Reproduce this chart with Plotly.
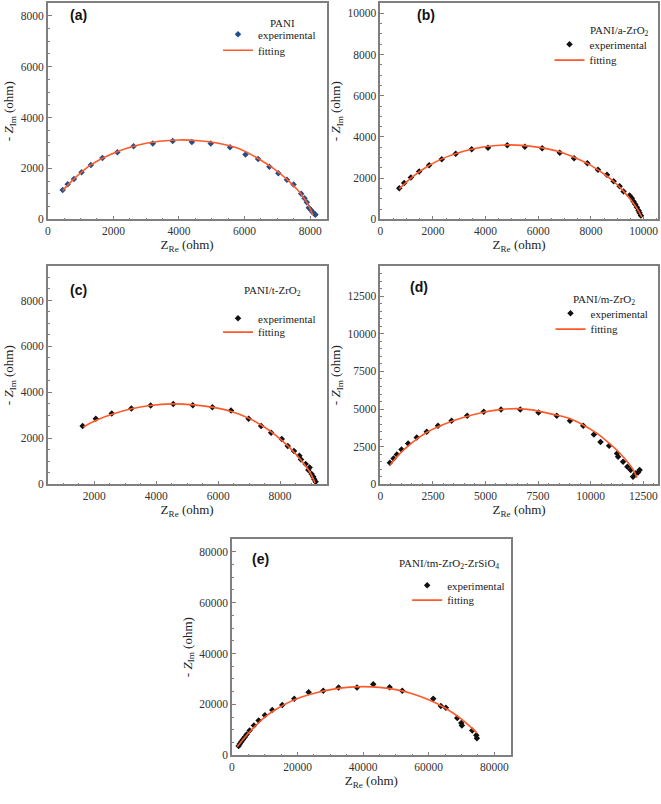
import plotly.graph_objects as go

W, H = 661, 804

# ---------------- data ----------------
a_exp_x = [455, 606, 798, 1030, 1313, 1667, 2121, 2616, 3202, 3808, 4394, 4970, 5556, 6030, 6414,
           6758, 7030, 7293, 7495, 7727, 7828, 7899, 7960, 8020, 8071, 8131, 8162]
a_exp_y = [1157, 1378, 1586, 1846, 2132, 2406, 2640, 2874, 2978, 3082, 3043, 2978, 2835, 2549, 2367,
           2068, 1808, 1560, 1365, 1001, 832, 676, 455, 377, 286, 221, 182]
a_fit_x = [455, 800, 1300, 2000, 2700, 3400, 4000, 4600, 5200, 5800, 6400, 6900, 7300, 7600, 7800, 7950, 8080]
a_fit_y = [1130, 1590, 2130, 2600, 2900, 3070, 3120, 3090, 2990, 2790, 2400, 1980, 1560, 1180, 860, 560, 170]

b_exp_x = [720, 909, 1162, 1477, 1856, 2336, 2866, 3472, 4091, 4823, 5492, 6149, 6818, 7361, 7866,
           8270, 8611, 8864, 9091, 9242, 9470, 9558, 9621, 9684, 9747, 9811, 9848, 9899]
b_exp_y = [1506, 1763, 2035, 2324, 2628, 2917, 3189, 3397, 3478, 3590, 3526, 3446, 3237, 2965, 2724,
           2404, 2163, 1843, 1603, 1346, 1154, 1026, 865, 737, 593, 433, 321, 192]
b_fit_x = [720, 1200, 1800, 2500, 3200, 3900, 4700, 5400, 6100, 6800, 7400, 8000, 8500, 8900, 9200,
           9450, 9650, 9800, 9930]
b_fit_y = [1480, 2040, 2580, 3020, 3320, 3510, 3610, 3590, 3480, 3280, 2990, 2620, 2200, 1800, 1420,
           1060, 720, 420, 120]

c_exp_x = [1624, 2051, 2566, 3199, 3820, 4550, 5183, 5814, 6415, 6984, 7389, 7711, 8055, 8248, 8450,
           8624, 8675, 8826, 8955, 8913, 9019, 9074, 9106, 9148]
c_exp_y = [2534, 2850, 3080, 3297, 3427, 3501, 3444, 3357, 3210, 2850, 2534, 2243, 1970, 1666, 1449,
           1245, 1085, 885, 738, 625, 451, 334, 217, 117]
c_fit_x = [1650, 2100, 2600, 3200, 3800, 4500, 5200, 5800, 6400, 7000, 7400, 7800, 8200, 8500, 8750, 8950, 9130]
c_fit_y = [2500, 2810, 3060, 3290, 3430, 3500, 3460, 3360, 3180, 2870, 2570, 2200, 1740, 1330, 930, 560, 60]

d_exp_x = [457, 631, 788, 1009, 1324, 1734, 2207, 2743, 3389, 4130, 4918, 5738, 6652, 7519, 8386,
           9016, 9647, 10151, 10467, 10876, 11255, 11302, 11538, 11743, 11901, 12011, 12137, 12248, 12327]
d_exp_y = [1436, 1723, 1988, 2319, 2716, 3114, 3489, 3887, 4218, 4549, 4814, 4969, 4969, 4770, 4549,
           4218, 3887, 3313, 2805, 2562, 2054, 1833, 1502, 1170, 950, 508, 729, 795, 950]
d_fit_x = [470, 900, 1500, 2200, 3000, 3900, 4800, 5700, 6500, 7300, 8100, 8900, 9600, 10300, 10900,
           11400, 11800, 12050, 12200]
d_fit_y = [1290, 2000, 2760, 3440, 3970, 4420, 4760, 4960, 5030, 4930, 4680, 4420, 3980, 3380, 2700,
           2050, 1400, 900, 450]

e_exp_x = [2033, 2439, 2846, 3354, 3862, 4472, 5386, 6707, 8130, 10061, 12297, 15346, 19004, 23374,
           27846, 32520, 38110, 43089, 48069, 51931, 61382, 63720, 65244, 68699, 69919, 70122, 73272,
           74492, 74695]
e_exp_y = [3636, 4545, 5325, 6234, 7143, 8182, 9740, 11688, 13636, 15714, 17792, 19740, 22208, 24805,
           25325, 26623, 26623, 27922, 26753, 25325, 22208, 19351, 18701, 14675, 12727, 11688, 9740,
           7922, 6753]
e_fit_x = [1600, 3000, 5000, 7500, 10000, 13000, 17000, 21000, 26000, 31000, 36000, 40000, 45000,
           50000, 55000, 60000, 65000, 70000, 74700]
e_fit_y = [3400, 5600, 8700, 12000, 15000, 17700, 20600, 22800, 24700, 26000, 26800, 27000, 26700,
           25800, 24200, 21800, 18600, 14200, 8800]

sample_names = ["PANI", "PANI/a-ZrO<sub>2</sub>", "PANI/t-ZrO<sub>2</sub>", "PANI/m-ZrO<sub>2</sub>",
                "PANI/tm-ZrO<sub>2</sub>-ZrSiO<sub>4</sub>"]
panel_labels = ["(a)", "(b)", "(c)", "(d)", "(e)"]
exp_label = "experimental"
fit_label = "fitting"

x_ranges = [[0, 8500], [0, 10550], [500, 9500], [0, 13200], [0, 85000]]
y_ranges = [[0, 8500], [0, 10500], [0, 9500], [0, 14500], [0, 85000]]
x_dticks = [2000, 2000, 2000, 2500, 20000]
y_dticks = [2000, 2000, 2000, 2500, 20000]

exp_x = [a_exp_x, b_exp_x, c_exp_x, d_exp_x, e_exp_x]
exp_y = [a_exp_y, b_exp_y, c_exp_y, d_exp_y, e_exp_y]
fit_x = [a_fit_x, b_fit_x, c_fit_x, d_fit_x, e_fit_x]
fit_y = [a_fit_y, b_fit_y, c_fit_y, d_fit_y, e_fit_y]
marker_colors = ["#1f4f8c", "#111111", "#111111", "#111111", "#111111"]

# ---------------- layout geometry (pixels) ----------------
# (left, right, top, bottom) of each plotting frame
frames = [(45, 325, 3, 221), (379, 658, 3, 221), (45, 325, 268, 488), (379, 658, 268, 488), (230, 510, 543, 761)]
label_pos = [(76, 15), (425, 15), (76, 292), (418, 289), (259, 563)]
name_pos = [(281, 23), (619, 31), (271, 293), (604, 302), (448, 568)]
# legend boxes: (left, top of experimental entry, top of fitting entry)
legend_pos = [(216, 20, 36), (549, 30, 46), (216, 306, 320), (550, 301, 317), (406, 575, 590)]

FIT_COLOR = "#ff5a2a"
AX_COLOR = "#7f7f7f"
SERIF = "Liberation Serif"


def px(x):
    return x / W


def py(y):
    return 1 - y / H


fig = go.Figure()
annotations = []
layout = dict(
    width=W, height=H, margin=dict(l=0, r=0, t=0, b=0), autosize=False,
    paper_bgcolor="white", plot_bgcolor="white",
    font=dict(family=SERIF, size=11, color="#222222"),
)

for i in range(5):
    n = "" if i == 0 else str(i + 1)
    leg_e = "legend" if i == 0 else "legend" + str(2 * i + 1)
    leg_f = "legend" + str(2 * i + 2)
    fig.add_trace(go.Scatter(
        x=exp_x[i], y=exp_y[i], mode="markers", name=exp_label,
        marker=dict(symbol="diamond", size=5, color=marker_colors[i]),
        xaxis="x" + n, yaxis="y" + n, legend=leg_e, showlegend=True,
    ))
    fig.add_trace(go.Scatter(
        x=fit_x[i], y=fit_y[i], mode="lines", name=fit_label,
        line=dict(color=FIT_COLOR, width=1.6, shape="spline", smoothing=1.0),
        xaxis="x" + n, yaxis="y" + n, legend=leg_f, showlegend=True,
    ))
    l, r, t, b = frames[i]
    common = dict(
        showgrid=False, zeroline=False, showline=True, mirror=True,
        linecolor=AX_COLOR, linewidth=1.5,
        ticks="inside", ticklen=4, tickwidth=1, tickcolor=AX_COLOR,
        tickfont=dict(family=SERIF, size=11.5, color="#333333"),
        tickformat="d", exponentformat="none",
        minor=dict(ticks="inside", ticklen=2, tickcolor=AX_COLOR),
    )
    layout["xaxis" + n] = dict(
        common, domain=[px(l), px(r)], range=x_ranges[i], dtick=x_dticks[i], tick0=0,
        anchor="y" + n,
        title=dict(text="Z<sub>Re</sub> (ohm)", font=dict(family=SERIF, size=13, color="#222222"), standoff=3),
    )
    layout["yaxis" + n] = dict(
        common, domain=[py(b), py(t)], range=y_ranges[i], dtick=y_dticks[i], tick0=0,
        anchor="x" + n,
        title=dict(text="- <i>Z</i><sub>Im</sub> (ohm)", font=dict(family=SERIF, size=13, color="#222222"), standoff=4),
    )
    lx, ly_e, ly_f = legend_pos[i]
    for leg, ly in ((leg_e, ly_e), (leg_f, ly_f)):
        layout[leg] = dict(
            x=px(lx), y=py(ly), xanchor="left", yanchor="top", xref="paper", yref="paper",
            bgcolor="rgba(0,0,0,0)", borderwidth=0, tracegroupgap=0,
            font=dict(family=SERIF, size=11, color="#222222"), itemwidth=30,
        )
    ax, ay = label_pos[i]
    annotations.append(dict(
        x=px(ax), y=py(ay), xref="paper", yref="paper", text="<b>" + panel_labels[i] + "</b>",
        showarrow=False, xanchor="center", yanchor="middle",
        font=dict(family="Liberation Sans", size=14, color="#111111"),
    ))
    nx, ny = name_pos[i]
    annotations.append(dict(
        x=px(nx), y=py(ny), xref="paper", yref="paper", text=sample_names[i],
        showarrow=False, xanchor="center", yanchor="middle",
        font=dict(family=SERIF, size=11, color="#222222"),
    ))

layout["annotations"] = annotations
fig.update_layout(**layout)
fig.write_html("out.html")
